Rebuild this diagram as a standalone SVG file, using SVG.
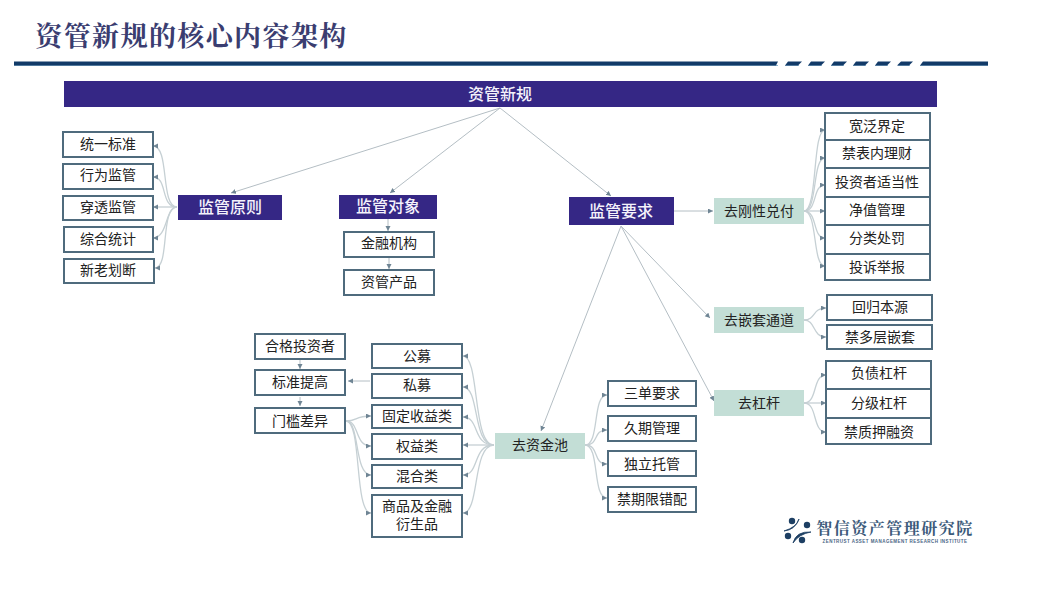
<svg xmlns="http://www.w3.org/2000/svg" width="1040" height="612" viewBox="0 0 1040 612">
<style>
text{font-family:"Noto Sans CJK SC","Liberation Sans",sans-serif;text-anchor:middle;dominant-baseline:central}
.b rect{fill:#fff;stroke:#4f6b7d;stroke-width:2}
.b text{font-size:14px;fill:#222}
.d rect{fill:#352785}
.d text{fill:#f4f2fb;font-size:16px;font-weight:500}
.g rect{fill:#c3ded6}
.g text{font-size:14px;fill:#222}
.s{fill:none;stroke:#b4bec4;stroke-width:1}
.c{fill:none;stroke:#c6d0d4;stroke-width:1.3}
</style>
<defs>
<marker id="a" markerWidth="6" markerHeight="6" refX="5" refY="2.500" orient="auto" markerUnits="userSpaceOnUse"><path d="M0,0L5,2.500L0,5Z" fill="#6f8594"/></marker>
</defs>
<rect width="1040" height="612" fill="#fff"/>
<text x="191.500" y="34" font-size="27" font-weight="700" fill="#3a3d70" style="font-family:'Noto Serif CJK SC','Noto Sans CJK SC',serif;letter-spacing:1.400px">资管新规的核心内容架构</text>
<g id="rule">
<path d="M14 65H778v1H14ZM785 65h14v1h-14ZM808 65h14v1h-14ZM831 65h13v1h-13ZM853 65h13v1h-13ZM875 65h13v1h-13ZM898 65h12v1h-12ZM920 65H988v1H920Z" fill="#8fb6d0"/>
<path d="M14 61.500H778l-2 4H14ZM788 61.500h14l-4 4h-13ZM811 61.500h14l-4 4h-13ZM834 61.500h13l-4 4h-12ZM856 61.500h13l-4 4h-12ZM878 61.500h13l-4 4h-12ZM901 61.500h12l-4 4h-12ZM923 61.500H988v4H920Z" fill="#123a68"/>
</g>
<g id="connectors">
<g class="s">
<path marker-end="url(#a)" d="M500 108L231 193"/>
<path marker-end="url(#a)" d="M500 108L390 193"/>
<path marker-end="url(#a)" d="M500 108L611 196"/>
<path marker-end="url(#a)" d="M388 219V231"/>
<path marker-end="url(#a)" d="M389 258V269"/>
<path marker-end="url(#a)" d="M674 211H713"/>
<path marker-end="url(#a)" d="M621 226L541 431"/>
<path marker-end="url(#a)" d="M621 226L714 401"/>
<path marker-end="url(#a)" d="M621 226L710 318"/>
<path marker-end="url(#a)" d="M300 360V369"/>
<path marker-end="url(#a)" d="M300 397V406"/>
<path marker-end="url(#a)" d="M370 381H348"/>
</g>
<g class="c">
<path marker-end="url(#a)" d="M177 207C160 207 170 146 153 146"/>
<path marker-end="url(#a)" d="M177 207C160 207 168 177 153 177"/>
<path marker-end="url(#a)" d="M177 207H153"/>
<path marker-end="url(#a)" d="M177 207C165 207 168 238 153 238"/>
<path marker-end="url(#a)" d="M177 207C160 207 170 268 155 268"/>
<path marker-end="url(#a)" d="M804 211C818 211 812 130 825 130"/>
<path marker-end="url(#a)" d="M804 211C818 211 812 158 825 158"/>
<path marker-end="url(#a)" d="M804 211C818 211 812 185 825 185"/>
<path marker-end="url(#a)" d="M804 211H825"/>
<path marker-end="url(#a)" d="M804 211C818 211 812 238 825 238"/>
<path marker-end="url(#a)" d="M804 211C818 211 812 266 825 266"/>
<path marker-end="url(#a)" d="M804 320C816 320 812 308 826 308"/>
<path marker-end="url(#a)" d="M804 320C816 320 812 337 826 337"/>
<path marker-end="url(#a)" d="M804 403C818 403 812 375 826 375"/>
<path marker-end="url(#a)" d="M804 403H826"/>
<path marker-end="url(#a)" d="M804 403C818 403 812 432 826 432"/>
<path marker-end="url(#a)" d="M585 445C600 445 592 395 607 395"/>
<path marker-end="url(#a)" d="M585 445C600 445 592 430 607 430"/>
<path marker-end="url(#a)" d="M585 445C600 445 592 464 607 464"/>
<path marker-end="url(#a)" d="M585 445C600 445 592 498 607 498"/>
<path marker-end="url(#a)" d="M494 445C472 445 480 356 463 356"/>
<path marker-end="url(#a)" d="M494 445C472 445 480 387 463 387"/>
<path marker-end="url(#a)" d="M494 445C472 445 480 417 463 417"/>
<path marker-end="url(#a)" d="M494 445H463"/>
<path marker-end="url(#a)" d="M494 445C472 445 480 475 463 475"/>
<path marker-end="url(#a)" d="M494 445C472 445 480 513 463 513"/>
<path marker-end="url(#a)" d="M346 421C358 421 354 416 371 416"/>
<path marker-end="url(#a)" d="M346 421C360 421 354 446 371 446"/>
<path marker-end="url(#a)" d="M346 421C360 421 354 475 371 475"/>
<path marker-end="url(#a)" d="M346 421C362 421 354 513 371 513"/>
</g>
</g>
<g id="root" class="d"><rect x="64" y="81" width="873" height="26"/><text x="500" y="93">资管新规</text></g>
<g id="n-yuanze" class="d"><rect x="178" y="195" width="104" height="25"/><text x="230" y="206">监管原则</text></g>
<g id="n-duixiang" class="d"><rect x="339" y="195" width="98" height="24"/><text x="388" y="205">监管对象</text></g>
<g id="n-yaoqiu" class="d"><rect x="569" y="197" width="105" height="28"/><text x="621" y="210">监管要求</text></g>
<g id="n-gangxing" class="g"><rect x="714" y="198" width="90" height="26"/><text x="759" y="210">去刚性兑付</text></g>
<g id="n-qiantao" class="g"><rect x="714" y="307" width="90" height="26"/><text x="759" y="319">去嵌套通道</text></g>
<g id="n-ganggan" class="g"><rect x="714" y="390" width="90" height="26"/><text x="759" y="402">去杠杆</text></g>
<g id="n-zijinchi" class="g"><rect x="495" y="433" width="90" height="26"/><text x="540" y="444">去资金池</text></g>
<g id="b1" class="b"><rect x="63" y="132" width="90" height="25"/><text x="108" y="143">统一标准</text></g>
<g id="b2" class="b"><rect x="63" y="164" width="90" height="25"/><text x="108" y="174">行为监管</text></g>
<g id="b3" class="b"><rect x="63" y="196" width="90" height="24"/><text x="108" y="206">穿透监管</text></g>
<g id="b4" class="b"><rect x="64" y="227" width="89" height="25"/><text x="108" y="238">综合统计</text></g>
<g id="b5" class="b"><rect x="64" y="259" width="90" height="24"/><text x="108" y="269">新老划断</text></g>
<g id="b6" class="b"><rect x="344" y="232" width="90" height="25"/><text x="389" y="242">金融机构</text></g>
<g id="b7" class="b"><rect x="344" y="270" width="90" height="25"/><text x="389" y="281">资管产品</text></g>
<g id="c1" class="b"><rect x="825" y="113" width="105" height="27"/><text x="877" y="125">宽泛界定</text></g>
<g id="c2" class="b"><rect x="825" y="140" width="105" height="28"/><text x="877" y="152">禁表内理财</text></g>
<g id="c3" class="b"><rect x="825" y="168" width="105" height="29"/><text x="877" y="181">投资者适当性</text></g>
<g id="c4" class="b"><rect x="825" y="197" width="105" height="28"/><text x="877" y="209">净值管理</text></g>
<g id="c5" class="b"><rect x="825" y="225" width="105" height="29"/><text x="877" y="237">分类处罚</text></g>
<g id="c6" class="b"><rect x="825" y="254" width="105" height="26"/><text x="877" y="266">投诉举报</text></g>
<g id="c7" class="b"><rect x="827" y="295" width="105" height="25"/><text x="880" y="306">回归本源</text></g>
<g id="c8" class="b"><rect x="827" y="325" width="105" height="24"/><text x="880" y="336">禁多层嵌套</text></g>
<g id="c9" class="b"><rect x="826" y="361" width="105" height="28"/><text x="879" y="372">负债杠杆</text></g>
<g id="c10" class="b"><rect x="826" y="389" width="105" height="29"/><text x="879" y="402">分级杠杆</text></g>
<g id="c11" class="b"><rect x="826" y="418" width="105" height="26"/><text x="879" y="431">禁质押融资</text></g>
<g id="e1" class="b"><rect x="608" y="381" width="88" height="25"/><text x="652" y="392">三单要求</text></g>
<g id="e2" class="b"><rect x="608" y="416" width="88" height="25"/><text x="652" y="427">久期管理</text></g>
<g id="e3" class="b"><rect x="608" y="451" width="88" height="25"/><text x="652" y="463">独立托管</text></g>
<g id="e4" class="b"><rect x="608" y="487" width="88" height="25"/><text x="652" y="498">禁期限错配</text></g>
<g id="f1" class="b"><rect x="372" y="344" width="90" height="24"/><text x="417" y="355">公募</text></g>
<g id="f2" class="b"><rect x="372" y="374" width="90" height="24"/><text x="417" y="384">私募</text></g>
<g id="f3" class="b"><rect x="372" y="405" width="90" height="23"/><text x="417" y="415">固定收益类</text></g>
<g id="f4" class="b"><rect x="372" y="434" width="90" height="25"/><text x="417" y="445">权益类</text></g>
<g id="f5" class="b"><rect x="372" y="465" width="90" height="23"/><text x="417" y="475">混合类</text></g>
<g id="f6" class="b"><rect x="372" y="495" width="90" height="42"/><text x="417" y="505">商品及金融</text><text x="417" y="523">衍生品</text></g>
<g id="h1" class="b"><rect x="255" y="334" width="90" height="25"/><text x="300" y="345">合格投资者</text></g>
<g id="h2" class="b"><rect x="255" y="370" width="90" height="25"/><text x="300" y="381">标准提高</text></g>
<g id="h3" class="b"><rect x="255" y="408" width="90" height="25"/><text x="300" y="420">门槛差异</text></g>
<g id="logo">
<g fill="#1d3f63"><circle cx="792" cy="521" r="3.200"/><circle cx="807" cy="525" r="3.200"/><circle cx="788" cy="536" r="3.200"/><circle cx="802" cy="540" r="3.200"/></g>
<path d="M784 531Q795 530 799 519Q797 527 784 531ZM793 543Q796 531 811 532Q799 534 793 543Z" fill="#1d3f63" stroke="#1d3f63" stroke-width=".8"/>
<text x="895" y="527" font-size="16" font-weight="700" fill="#3c5a7a" style="font-family:'Noto Serif CJK SC','Noto Sans CJK SC',serif;letter-spacing:1.500px">智信资产管理研究院</text>
<text x="895" y="541" font-size="4.500" font-weight="700" fill="#4a6685" style="font-family:'Liberation Sans',sans-serif;letter-spacing:.45px">ZENTRUST ASSET MANAGEMENT RESEARCH INSTITUTE</text>
</g>
</svg>
